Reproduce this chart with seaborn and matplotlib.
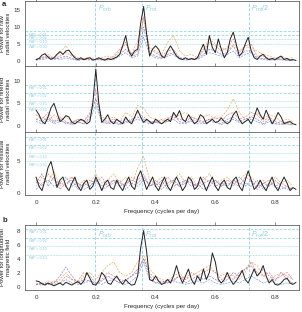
import numpy as np
import pandas as pd
import matplotlib
matplotlib.use("Agg")
import matplotlib.pyplot as plt
import seaborn as sns

# ---------------- data ----------------
freq_fine = np.round(np.arange(0, 0.875, 0.01), 2)      # 88 points (black curves)
freq_coarse = np.round(np.arange(0, 0.875, 0.02), 2)    # 44 points (dashed curves)

raw_black = [0.5, 0.8, 1.8, 2.2, 1.2, 0.5, 1.0, 2.0, 2.8, 2.0,
             3.0, 3.2, 2.0, 1.0, 0.5, 1.0, 0.4, 0.8, 1.0, 0.3,
             0.6, 1.0, 0.6, 0.3, 0.8, 0.5, 0.8, 1.2, 2.0, 4.5,
             7.5, 3.0, 1.5, 3.0, 3.5, 11.0, 16.0, 8.0, 1.5, 3.5,
             4.5, 3.5, 1.5, 1.0, 3.0, 4.5, 3.0, 1.5, 0.8, 0.5,
             1.0, 0.5, 0.8, 0.5, 1.0, 3.0, 5.0, 2.0, 7.5, 4.0,
             2.5, 6.5, 3.5, 1.0, 2.5, 6.5, 8.5, 5.0, 1.5, 2.5,
             5.0, 7.0, 3.0, 1.0, 0.5, 1.5, 2.0, 1.0, 0.5, 0.8,
             0.5, 1.0, 1.5, 0.5, 0.8, 0.3, 0.5, 0.2]
raw_orange = [0.5, 1.2, 2.0, 1.0, 2.5, 4.5, 2.0, 1.0, 0.8, 1.2, 0.6, 1.0, 1.5, 1.0, 3.0,
              5.0, 2.0, 6.0, 12.0, 4.0, 3.0, 2.0, 5.5, 7.5, 3.0, 1.5, 2.0, 1.0, 3.5, 6.5,
              5.0, 4.0, 3.0, 5.0, 3.0, 4.5, 3.5, 3.0, 2.0, 1.5, 1.0, 1.5, 0.8, 1.0]
raw_red = [0.3, 1.0, 1.5, 0.8, 1.5, 2.5, 1.5, 0.5, 0.8, 0.5, 0.5, 0.8, 0.5, 1.5, 3.5,
           5.5, 2.0, 3.0, 13.0, 3.5, 2.5, 1.5, 3.0, 3.5, 1.0, 0.8, 0.5, 1.0, 3.0, 5.5,
           4.5, 3.0, 4.0, 6.5, 2.5, 4.5, 5.0, 1.5, 1.5, 0.8, 0.5, 1.0, 0.5, 0.3]
raw_purple = [0.5, 0.8, 1.2, 0.5, 1.0, 1.5, 0.8, 0.3, 0.5, 0.8, 0.4, 0.5, 0.3, 0.8, 2.0,
              3.5, 1.5, 2.0, 10.0, 2.5, 1.5, 1.0, 2.0, 2.5, 0.8, 0.4, 0.5, 0.8, 2.0, 3.5,
              3.0, 2.0, 2.5, 4.5, 1.5, 3.0, 3.0, 1.0, 0.8, 0.5, 0.3, 0.6, 0.3, 0.2]
raw_blue = [0.3, 0.5, 0.8, 1.0, 0.5, 1.0, 0.5, 0.3, 0.6, 0.3, 0.5, 0.3, 0.6, 0.5, 1.5,
            2.5, 1.0, 1.5, 7.0, 2.0, 1.0, 0.8, 1.5, 2.0, 0.5, 0.3, 0.6, 0.5, 1.5, 2.5,
            2.0, 1.5, 2.0, 3.0, 1.0, 2.0, 2.5, 0.8, 0.5, 0.3, 0.5, 0.4, 0.2, 0.3]

filt_black = [3.5, 2.5, 1.0, 0.5, 2.0, 4.0, 5.0, 3.0, 1.0, 1.5,
              2.3, 2.0, 0.8, 0.5, 1.0, 1.5, 1.2, 0.5, 1.0, 5.0,
              12.5, 5.0, 0.8, 1.5, 2.5, 1.0, 0.5, 1.5, 1.0, 0.5,
              2.0, 1.0, 0.5, 2.0, 3.5, 2.0, 0.8, 1.5, 1.0, 0.5,
              1.5, 1.0, 0.5, 1.0, 1.5, 1.0, 3.0, 2.0, 3.4, 1.5,
              1.0, 2.5, 1.5, 0.5, 1.0, 2.5, 2.0, 0.5, 1.0, 1.5,
              0.8, 1.0, 1.8, 1.0, 0.5, 1.0, 2.5, 3.3, 1.5, 0.5,
              1.0, 1.5, 0.5, 2.0, 4.0, 2.5, 1.5, 3.5, 2.0, 0.5,
              1.5, 3.0, 2.0, 0.5, 0.8, 1.0, 0.5, 0.3]
filt_orange = [1.5, 2.0, 1.0, 2.5, 1.5, 2.0, 1.0, 1.5, 1.0, 2.5, 6.0, 2.0, 1.5, 2.0, 1.0,
               3.0, 2.0, 4.5, 4.0, 2.0, 1.5, 1.0, 2.0, 1.5, 2.5, 3.0, 2.0, 1.5, 2.0, 2.5,
               1.5, 2.0, 3.5, 6.0, 3.0, 1.5, 2.0, 3.0, 1.5, 2.5, 2.0, 1.0, 1.5, 1.0]
filt_red = [2.5, 1.5, 3.0, 1.0, 2.0, 1.0, 0.5, 1.5, 1.0, 3.0, 8.0, 1.5, 1.0, 1.5, 1.0,
            1.5, 1.0, 3.0, 2.0, 1.0, 0.8, 1.5, 1.0, 2.0, 1.5, 1.0, 2.0, 1.5, 1.0, 1.5,
            2.0, 1.0, 2.5, 3.0, 1.5, 2.0, 3.0, 2.5, 1.0, 2.0, 1.0, 0.5, 1.0, 0.5]
filt_purple = [1.5, 1.0, 2.0, 0.8, 1.5, 0.5, 1.0, 1.0, 0.5, 2.0, 6.0, 1.0, 0.8, 1.0, 0.5,
               1.0, 1.5, 2.0, 1.5, 0.8, 1.0, 0.5, 1.5, 2.5, 1.0, 0.5, 1.5, 1.0, 0.8, 1.5,
               1.0, 0.5, 1.5, 2.0, 1.0, 1.5, 2.0, 1.5, 0.5, 1.5, 0.5, 1.0, 0.5, 0.3]
filt_blue = [1.0, 0.5, 1.5, 0.5, 1.0, 0.8, 0.3, 0.8, 0.5, 1.5, 4.5, 0.8, 0.5, 0.8, 0.3,
             0.8, 1.0, 1.5, 1.0, 0.5, 0.8, 0.5, 1.0, 1.5, 0.5, 0.8, 1.0, 0.5, 0.5, 1.0,
             0.8, 0.3, 1.0, 1.5, 0.8, 1.0, 1.5, 1.0, 0.3, 1.0, 0.5, 0.3, 0.5, 0.2]

res_black = [2.5, 1.0, 0.3, 2.0, 4.0, 5.0, 3.0, 0.8, 2.0, 2.5,
             1.0, 0.3, 1.5, 2.5, 1.0, 0.3, 1.5, 2.0, 0.5, 1.0,
             2.5, 1.5, 0.3, 1.5, 2.0, 0.8, 0.5, 2.0, 1.0, 0.3,
             1.5, 2.5, 1.0, 0.5, 2.5, 3.5, 2.0, 0.5, 1.5, 2.5,
             1.0, 0.3, 1.5, 2.5, 1.0, 0.3, 1.5, 2.5, 1.5, 0.3,
             1.0, 2.5, 2.0, 0.5, 1.0, 2.5, 1.5, 0.3, 1.5, 2.5,
             1.0, 0.3, 1.5, 2.0, 0.8, 0.5, 2.0, 2.5, 1.0, 0.3,
             2.0, 3.5, 2.0, 0.5, 1.0, 2.0, 1.0, 0.3, 1.5, 2.5,
             1.0, 0.3, 1.5, 2.5, 1.5, 0.3, 0.8, 0.5]
res_orange = [1.0, 2.5, 1.5, 3.5, 1.0, 2.0, 2.5, 1.0, 2.0, 1.5, 3.0, 1.5, 2.0, 3.0, 1.5,
              2.5, 1.0, 4.0, 5.8, 2.0, 1.5, 2.5, 1.0, 2.0, 3.0, 1.5, 2.5, 1.0, 2.0, 3.0,
              1.5, 2.0, 2.5, 1.5, 2.0, 3.0, 2.5, 1.5, 2.0, 1.0, 2.5, 1.5, 2.0, 1.0]
res_red = [2.0, 1.0, 3.0, 2.0, 1.5, 1.0, 2.5, 1.5, 1.0, 2.0, 1.5, 2.5, 1.0, 2.0, 1.5,
           1.0, 2.5, 2.0, 3.0, 1.0, 2.0, 1.0, 2.5, 1.5, 1.0, 2.0, 1.5, 1.0, 2.5, 1.5,
           2.0, 1.0, 2.0, 1.5, 1.0, 2.5, 2.0, 1.0, 1.5, 2.0, 1.0, 1.5, 1.0, 0.5]
res_purple = [1.5, 3.0, 1.0, 2.5, 0.5, 1.5, 2.0, 0.5, 1.5, 1.0, 2.0, 1.0, 1.5, 2.0, 1.0,
              1.5, 2.0, 1.5, 2.5, 1.0, 1.5, 0.5, 1.5, 2.0, 1.0, 1.5, 2.0, 0.5, 1.5, 2.0,
              1.0, 1.5, 1.0, 2.0, 1.5, 1.0, 2.0, 0.5, 1.5, 1.0, 2.0, 1.0, 0.5, 0.8]
res_blue = [0.5, 1.5, 2.0, 1.0, 1.5, 2.5, 1.0, 1.5, 0.5, 1.0, 2.0, 0.5, 1.0, 1.5, 2.0,
            0.5, 1.5, 1.0, 2.0, 1.5, 1.0, 2.0, 0.5, 1.0, 1.5, 2.0, 1.0, 1.5, 0.5, 1.0,
            2.0, 1.0, 1.5, 1.0, 2.5, 1.5, 1.0, 2.0, 0.5, 1.5, 1.0, 0.5, 1.0, 0.5]

mag_black = [0.8, 0.7, 0.4, 0.2, 0.5, 0.3, 0.1, 0.3, 0.5, 0.2,
             0.6, 0.4, 0.2, 0.5, 0.7, 0.3, 0.8, 2.0, 1.2, 0.3,
             0.2, 0.8, 2.0, 1.5, 0.5, 0.3, 1.0, 1.5, 0.8, 0.3,
             1.0, 0.5, 0.2, 0.3, 1.5, 5.5, 8.0, 5.0, 1.0, 0.8,
             1.5, 0.8, 0.3, 0.5, 1.0, 0.5, 1.5, 3.0, 1.5, 0.5,
             1.5, 2.5, 1.0, 0.3, 1.5, 0.8, 2.5, 1.0, 2.0, 4.8,
             3.5, 1.0, 0.5, 1.0, 2.0, 1.0, 0.3, 0.8, 1.5, 2.3,
             1.0, 0.5, 1.5, 2.5, 1.5, 2.0, 3.0, 1.5, 0.5, 1.0,
             0.3, 0.2, 0.5, 1.0, 1.2, 0.5, 0.3, 0.6]
mag_orange = [0.5, 0.3, 0.8, 0.5, 1.0, 2.0, 1.0, 0.5, 1.5, 2.0, 1.0, 2.0, 3.0, 3.5, 2.0,
              1.5, 2.0, 3.5, 4.5, 2.5, 1.5, 1.0, 0.8, 1.5, 2.0, 1.0, 1.5, 2.0, 2.5, 3.0,
              2.0, 1.5, 2.0, 1.5, 1.0, 2.0, 3.5, 3.0, 1.5, 1.0, 1.5, 2.0, 1.5, 1.0]
mag_red = [0.3, 0.5, 0.3, 0.8, 0.5, 1.5, 1.0, 0.8, 2.0, 1.5, 0.5, 1.0, 2.0, 1.5, 1.0,
           0.8, 1.5, 2.5, 4.0, 2.0, 1.0, 0.5, 1.0, 0.8, 1.5, 1.0, 2.0, 1.5, 2.0, 2.5,
           2.0, 1.0, 1.5, 1.0, 2.0, 2.5, 3.5, 2.0, 1.5, 2.0, 1.0, 1.5, 2.0, 1.0]
mag_purple = [0.2, 0.5, 0.3, 0.5, 1.5, 2.8, 1.5, 0.5, 1.0, 0.8, 0.3, 0.8, 1.5, 1.0, 0.5,
              1.0, 1.5, 2.0, 4.0, 1.5, 0.5, 0.8, 0.5, 1.0, 1.5, 0.5, 1.0, 1.5, 1.0, 1.5,
              1.0, 0.5, 1.0, 2.0, 1.5, 2.5, 3.0, 1.5, 2.5, 1.5, 0.8, 2.0, 1.0, 0.5]
mag_blue = [0.3, 0.2, 0.5, 0.3, 0.5, 1.0, 0.5, 0.3, 0.5, 0.8, 0.5, 0.3, 0.8, 1.0, 0.5,
            0.3, 0.8, 1.5, 3.5, 1.0, 0.5, 0.3, 0.5, 0.8, 0.5, 0.3, 0.5, 0.8, 0.5, 1.0,
            0.5, 0.3, 0.5, 0.8, 0.5, 1.0, 1.5, 1.0, 0.5, 0.8, 0.5, 0.3, 0.5, 0.3]

fap_labels = ["FAP = 0.01", "FAP = 0.02", "FAP = 0.10", "FAP = 0.50"]
fap_raw = [8.7, 7.6, 6.4, 5.1]
fap_filt = [9.0, 7.3, 5.6, 4.3]
fap_res = [9.0, 7.6, 6.3, 5.0]
fap_mag = [8.2, 7.0, 5.8, 4.55]

period_freqs = [0.198, 0.356, 0.712]
period_labels = [r"$P_{\rm orb}$", r"$P_{\rm rot}$", r"$P_{\rm rot}/2$"]

ylabels = ["Power for raw\nradial velocities", "Power for filtered\nradial velocities",
           "Power for residual\nradial velocities", "Power for longitudinal\nmagnetic field"]
xticks = [0, 0.2, 0.4, 0.6, 0.8]
xtick_labels = ["0", "0.2", "0.4", "0.6", "0.8"]

# ---------------- style ----------------
sns.set_theme(style="white")
plt.rcParams["font.family"] = ["Liberation Sans", "DejaVu Sans"]
plt.rcParams["mathtext.fontset"] = "custom"
plt.rcParams["mathtext.it"] = "Liberation Sans:italic"
plt.rcParams["mathtext.rm"] = "Liberation Sans"

CYAN = "#86cde0"
colors = {"orange": "#e3a448", "red": "#e06a78", "purple": "#8a6cb4", "blue": "#5c8fd6"}

fig = plt.figure(figsize=(3.02, 3.12), dpi=100)
L, W = 25 / 302, (299 - 25) / 302
def ax_at(top_px, bot_px):
    return fig.add_axes([L, 1 - bot_px / 312, W, (bot_px - top_px) / 312])

ax1 = ax_at(1, 66)
ax2 = ax_at(66, 132)
ax3 = ax_at(132, 195)
ax4 = ax_at(225, 290)

panels = [
    (ax1, raw_black, [raw_orange, raw_red, raw_purple, raw_blue], fap_raw, (-1.4, 17.6), [0, 5, 10, 15]),
    (ax2, filt_black, [filt_orange, filt_red, filt_purple, filt_blue], fap_filt, (-1.3, 13.2), [0, 5, 10]),
    (ax3, res_black, [res_orange, res_red, res_purple, res_blue], fap_res, (-0.4, 9.75), [0, 5]),
    (ax4, mag_black, [mag_orange, mag_red, mag_purple, mag_blue], fap_mag, (-0.5, 8.8), [0, 2, 4, 6, 8]),
]

for i, (ax, black, cols, faps, ylim, yt) in enumerate(panels):
    for (name, c), series in zip(colors.items(), cols):
        df = pd.DataFrame({"f": freq_coarse, "p": series})
        sns.lineplot(data=df, x="f", y="p", ax=ax, color=c, lw=0.5,
                     linestyle=(0, (3, 1.5)), alpha=0.85)
    dfb = pd.DataFrame({"f": freq_fine, "p": black})
    sns.lineplot(data=dfb, x="f", y="p", ax=ax, color="#222222", lw=0.7)
    for j, (lvl, lab) in enumerate(zip(faps, fap_labels)):
        ls = (0, (4, 2)) if j < 2 else (0, (1, 1.2))
        ax.axhline(lvl, color=CYAN, lw=0.5, linestyle=ls, zorder=0)
        ax.text(-0.025, lvl - (ylim[1] - ylim[0]) * 0.018, lab, fontsize=2.6,
                color=CYAN, va="top", ha="left")
    for pf in period_freqs:
        ax.axvline(pf, color=CYAN, lw=0.55, linestyle=(0, (4, 2)), zorder=0)
    ax.set_xlim(-0.037, 0.88)
    ax.set_ylim(*ylim)
    ax.set_yticks(yt)
    ax.set_xticks(xticks)
    ax.set_ylabel(ylabels[i], fontsize=4.3, linespacing=1.1)
    ax.yaxis.set_label_coords(-0.052, 0.5)
    ax.tick_params(axis="both", labelsize=4.5, length=2, width=0.4, pad=1.5,
                   direction="out", colors="#333333")
    ax.tick_params(axis="x", top=True)
    for s in ax.spines.values():
        s.set_linewidth(0.5)
        s.set_color("#444444")
    if i in (0, 1):
        ax.set_xticklabels([])
        ax.set_xlabel("")
    else:
        ax.set_xticklabels(xtick_labels)
        ax.set_xlabel("Frequency (cycles per day)", fontsize=4.5, labelpad=3)

for ax, ytxt in [(ax1, 15.3), (ax4, 7.4)]:
    for pf, pl in zip(period_freqs, period_labels):
        ax.text(pf + 0.008, ytxt, pl, fontsize=5, color=CYAN, va="center", ha="left")

fig.text(2 / 302, 1 - 4 / 312, "a", fontsize=5.5, fontweight="bold", va="center")
fig.text(3 / 302, 1 - 221 / 312, "b", fontsize=5.5, fontweight="bold", va="center")

fig.savefig("out.png", dpi=100)
